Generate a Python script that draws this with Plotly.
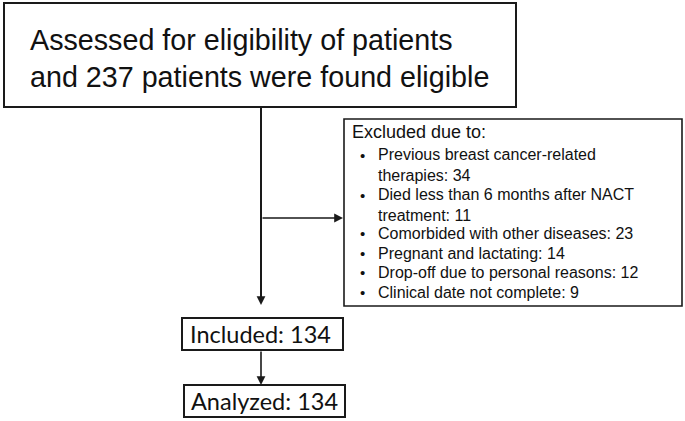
import plotly.graph_objects as go

# ---- data ----
eligible_count = 237
exclusion_reasons = [
    "Previous breast cancer-related<br>therapies",
    "Died less than 6 months after NACT<br>treatment",
    "Comorbided with other diseases",
    "Pregnant and lactating",
    "Drop-off due to personal reasons",
    "Clinical date not complete",
]
exclusion_counts = [34, 11, 23, 14, 12, 9]
included_count = 134
analyzed_count = 134

W, H = 685, 421
fig = go.Figure()
fig.update_xaxes(range=[0, W], visible=False, fixedrange=True)
fig.update_yaxes(range=[H, 0], visible=False, fixedrange=True)

LC = "#1a1a1a"
ARIAL = "Liberation Sans, Arial, sans-serif"
CALI = "Lato, Carlito, sans-serif"

def box(x0, y0, x1, y1, w=2):
    fig.add_shape(type="rect", x0=x0, y0=y0, x1=x1, y1=y1,
                  line=dict(color=LC, width=w), fillcolor="white", layer="below")

def line(x0, y0, x1, y1, w=2):
    fig.add_shape(type="line", x0=x0, y0=y0, x1=x1, y1=y1, line=dict(color=LC, width=w))

def arrow(x0, y0, x1, y1):
    fig.add_annotation(x=x1, y=y1, ax=x0, ay=y0, xref="x", yref="y", axref="x", ayref="y",
                       text="", showarrow=True, arrowhead=2, arrowsize=1.1, arrowwidth=1.6,
                       arrowcolor=LC, standoff=0, startstandoff=0)

# top box
box(4, 3, 516, 107)
fig.add_annotation(x=28, y=58, xref="x", yref="y", xanchor="left", yanchor="middle",
                   align="left", showarrow=False,
                   text=f"Assessed for eligibility of patients<br>and {eligible_count} patients were found eligible",
                   font=dict(family=ARIAL, size=28.7, color="#111"))

# connectors
line(261, 107, 261, 300)
arrow(261, 200, 261, 305)
arrow(261, 218, 343, 218)

# excluded box
box(344, 119, 682, 306, w=1.6)
fig.add_annotation(x=350, y=132, xref="x", yref="y", xanchor="left", yanchor="middle",
                   showarrow=False, text="Excluded due to:",
                   font=dict(family=ARIAL, size=18, color="#111"))
bullet_y = [155, 195, 233, 253, 272, 292]
for r, c, yy in zip(exclusion_reasons, exclusion_counts, bullet_y):
    fig.add_annotation(x=362, y=yy, xref="x", yref="y", xanchor="center", yanchor="middle",
                       showarrow=False, text="•", font=dict(family=ARIAL, size=15, color="#111"))
    nlines = r.count("<br>") + 1
    fig.add_annotation(x=376, y=yy - 10 + 10 * nlines, xref="x", yref="y", xanchor="left",
                       yanchor="middle", align="left", showarrow=False,
                       text=f"{r}: {c}",
                       font=dict(family=ARIAL, size=16, color="#111"))

# included
box(182, 318, 343, 350)
fig.add_annotation(x=260, y=334, xref="x", yref="y", xanchor="center", yanchor="middle",
                   showarrow=False, text=f"Included: {included_count}",
                   font=dict(family=CALI, size=23.5, color="#111"))
arrow(261, 350, 261, 385)

# analyzed
box(184, 385, 345, 417)
fig.add_annotation(x=264, y=401, xref="x", yref="y", xanchor="center", yanchor="middle",
                   showarrow=False, text=f"Analyzed: {analyzed_count}",
                   font=dict(family=CALI, size=23.5, color="#111"))

fig.update_layout(width=W, height=H, margin=dict(l=0, r=0, t=0, b=0),
                  plot_bgcolor="white", paper_bgcolor="white", showlegend=False)
fig.write_html("out.html", config={"displayModeBar": False, "staticPlot": True},
               post_script="document.body.style.margin='0';document.body.style.overflow='hidden';")
